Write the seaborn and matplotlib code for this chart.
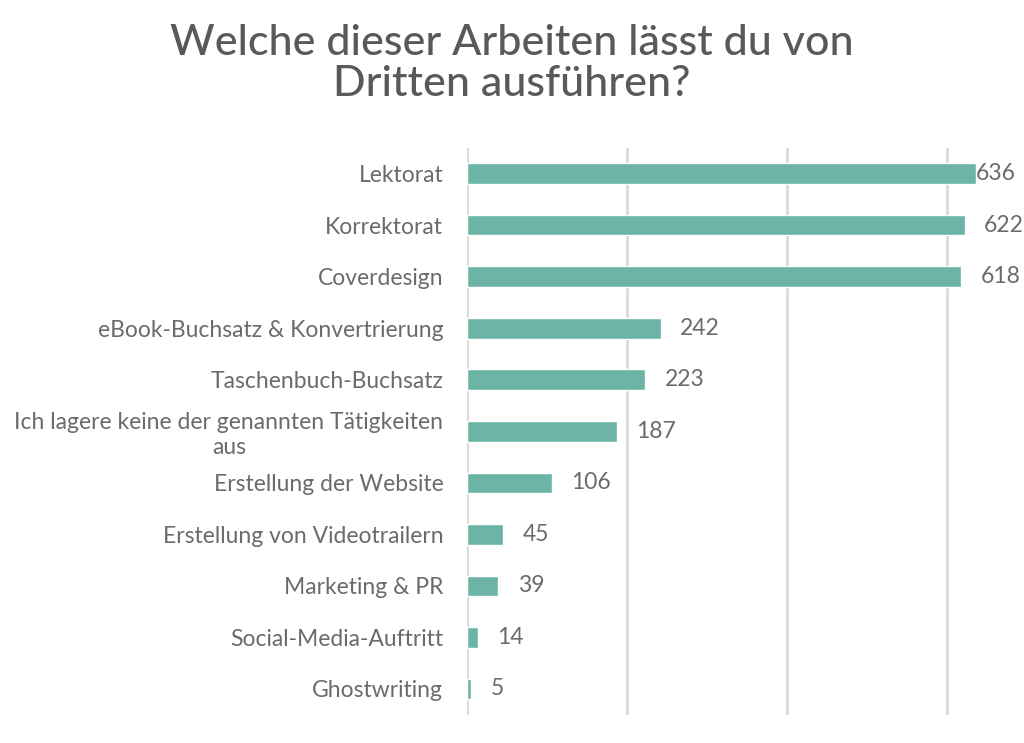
import matplotlib
matplotlib.use("Agg")
import matplotlib.pyplot as plt
import seaborn as sns
import pandas as pd

# data
categories = [
    "Lektorat",
    "Korrektorat",
    "Coverdesign",
    "eBook-Buchsatz & Konvertrierung",
    "Taschenbuch-Buchsatz",
    "Ich lagere keine der genannten Tätigkeiten\naus",
    "Erstellung der Website",
    "Erstellung von Videotrailern",
    "Marketing & PR",
    "Social-Media-Auftritt",
    "Ghostwriting",
]
counts = [636, 622, 618, 242, 223, 187, 106, 45, 39, 14, 5]
x_ticks = [0, 200, 400, 600]

df = pd.DataFrame({"task": categories, "count": counts})

sns.set_theme(style="white")
plt.rcParams["font.family"] = ["Lato", "DejaVu Sans"]

text_grey = "#6b6b6b"
bar_col = "#6cb5a6"

fig = plt.figure(figsize=(10.24, 7.43), dpi=100)
ax = fig.add_axes([0.456, 0.038, 0.497, 0.763])

sns.barplot(data=df, x="count", y="task", color=bar_col, width=0.4,
            saturation=1, ax=ax, zorder=3)

ax.set_xlim(0, 636)
ax.set_ylim(len(categories) - 0.5, -0.5)
ax.set_xticks(x_ticks)
ax.xaxis.grid(True, color="#d9d9d9", linewidth=2)
ax.set_axisbelow(True)
ax.tick_params(axis="x", bottom=False, labelbottom=False)
ax.tick_params(axis="y", left=False, pad=11)
for s in ax.spines.values():
    s.set_visible(False)
ax.set_xlabel("")
ax.set_ylabel("")

for lbl in ax.get_yticklabels():
    lbl.set_fontsize(16.5)
    lbl.set_fontweight("normal")
    lbl.set_color(text_grey)
    lbl.set_multialignment("center")

# value labels
for i, v in enumerate(counts):
    off = 0 if v == max(counts) else 14
    ax.annotate(str(v), xy=(v, i), xytext=(off, 0), textcoords="offset points",
                ha="left", va="center", fontsize=16.5, fontweight="normal",
                color=text_grey, annotation_clip=False)

fig.suptitle("Welche dieser Arbeiten lässt du von\nDritten ausführen?",
             x=0.5, y=0.968, fontsize=31, color="#595959", fontweight="medium",
             linespacing=1.1)

plt.savefig("out.png", dpi=100)
